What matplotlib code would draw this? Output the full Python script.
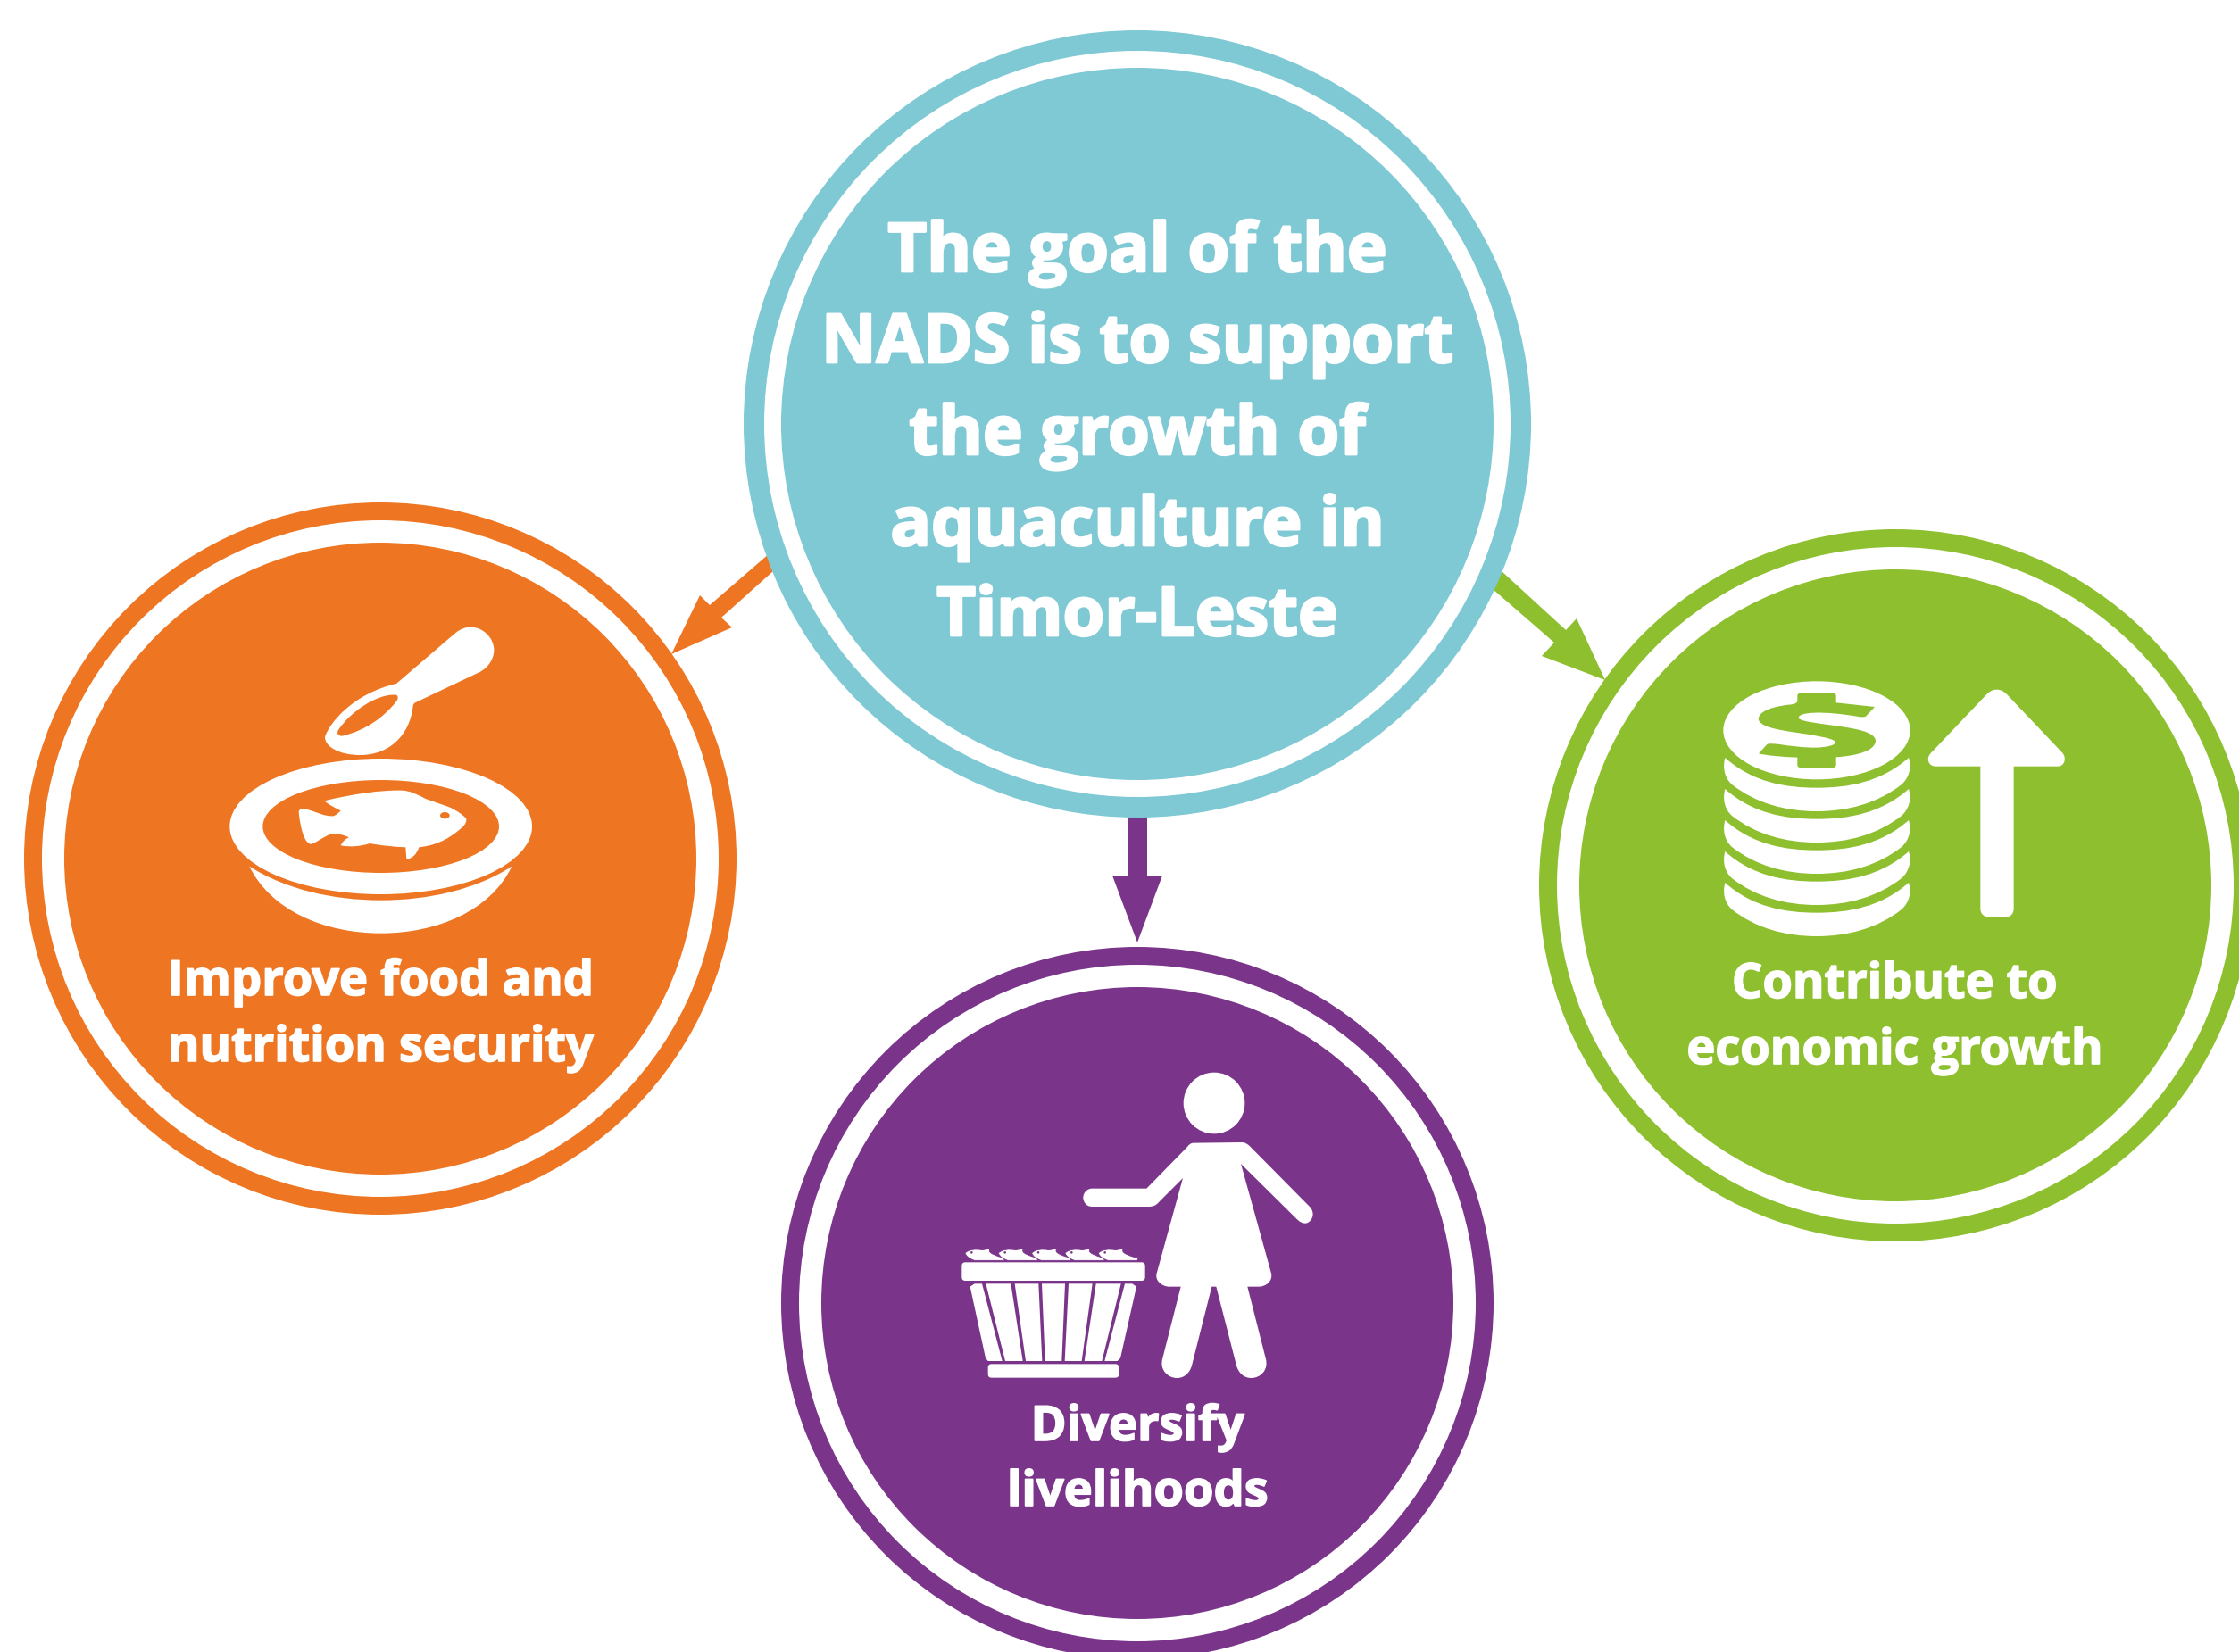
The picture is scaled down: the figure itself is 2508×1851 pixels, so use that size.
import re

import matplotlib
matplotlib.use("Agg")
import matplotlib.patheffects as pe
import matplotlib.pyplot as plt
from matplotlib.patches import Circle, Ellipse, FancyBboxPatch, PathPatch, Polygon
from matplotlib.path import Path

WIDTH, HEIGHT = 2508, 1851

TEAL = "#7FC9D5"
ORANGE = "#EE7623"
GREEN = "#8DBF2F"
PURPLE = "#7A358B"
FONT = ["Open Sans", "DejaVu Sans"]

# circle name, colour, centre x, centre y
circle_names = ["goal", "food", "economy", "livelihoods"]
circle_colors = [TEAL, ORANGE, GREEN, PURPLE]
circle_x = [1274, 426, 2123, 1274]
circle_y = [475, 962, 992, 1460]
circle_radii = [(441, 418, 399), (399, 379, 354), (399, 379, 354), (399, 379, 354)]

goal_lines = ["The goal of the", "NADS is to support", "the growth of",
              "aquaculture in", "Timor-Leste"]
goal_baselines = [304, 406, 509, 611, 712]

food_lines = ["Improve food and", "nutrition security"]
food_baselines = [1115, 1189]
economy_lines = ["Contribute to", "economic growth"]
economy_baselines = [1118, 1192]
livelihood_lines = ["Diversify", "livelihoods"]
livelihood_baselines = [1614, 1687]

# connector arrows, drawn under the circles
arrow_orange = [(862, 620), (795, 678), (784, 667), (752, 733), (820, 703), (808, 692), (866, 640)]
arrow_green = [(1682, 640), (1754, 706), (1766, 693), (1798, 762), (1727, 735), (1741, 720), (1672, 660)]
arrow_purple = [(1263, 915), (1263, 981), (1246, 981), (1274, 1056), (1302, 981), (1285, 981), (1285, 915)]

# icon outlines, in pixels of each icon's own 3x crop
SPOON = ("M 672 318 L 870 148 C 890 132 905 128 925 128 C 965 130 1000 165 1000 205 "
         "C 1000 240 975 268 950 280 L 735 382 C 728 386 728 392 727 400 "
         "C 715 490 650 558 550 558 C 480 558 432 530 432 498 "
         "C 445 450 530 350 672 318 Z")
SPOON_HOLE = ("M 672 356 C 680 362 678 370 670 380 C 630 430 570 475 490 494 "
              "C 475 494 470 485 478 472 C 520 410 610 350 672 356 Z")
BOWL = ("M 178 932 C 300 1010 460 1046 620 1046 C 780 1046 940 1010 1060 932 "
        "C 990 1080 810 1157 620 1157 C 430 1157 250 1080 178 932 Z")
FISH = ("M 430 712 C 520 690 620 675 690 677 C 720 678 745 692 770 705 L 850 733 "
        "C 875 745 895 758 907 772 C 908 790 895 800 880 812 C 840 845 800 862 748 868 "
        "C 740 892 725 906 706 908 L 703 868 C 660 866 620 862 583 855 "
        "C 550 865 520 868 485 862 C 492 848 500 840 513 835 C 495 826 470 820 450 824 "
        "C 430 832 405 850 388 857 C 365 860 350 810 344 750 C 345 738 355 737 370 740 "
        "C 400 748 430 765 460 763 C 470 760 478 752 485 745 C 465 735 445 725 430 712 Z")
COIN_BAND = ("M 97 357 C 190 440 300 458 405 458 C 510 458 620 440 714 357 "
             "C 725 390 715 425 690 447 C 610 510 510 537 405 537 "
             "C 300 537 200 510 120 447 C 95 425 88 390 97 357 Z")
DOLLAR = ("M 340 150 C 340 142 345 140 350 140 L 460 140 C 468 140 470 145 470 150 L 470 172 "
          "L 600 186 L 570 218 C 560 222 550 220 540 218 C 490 210 440 204 395 206 "
          "C 360 207 340 215 345 225 C 355 235 400 240 450 247 C 530 258 600 268 603 300 "
          "C 600 335 540 350 470 355 L 470 380 C 470 388 465 390 460 390 L 350 390 "
          "C 345 390 340 388 340 380 L 340 356 C 290 354 240 350 210 343 L 238 312 "
          "C 245 308 260 310 280 312 C 320 318 360 323 400 323 C 440 322 470 315 468 303 "
          "C 455 290 400 282 340 273 C 270 263 210 252 209 225 C 215 195 270 183 320 178 "
          "C 335 175 340 172 340 165 Z")
UP_ARROW = ("M 1010 128 C 1025 128 1035 135 1045 145 L 1230 340 C 1245 355 1240 386 1215 386 "
            "L 1067 386 L 1067 865 C 1067 882 1055 893 1040 893 L 985 893 "
            "C 968 893 955 882 955 865 L 955 386 L 805 386 C 780 386 772 360 787 343 "
            "L 975 145 C 985 135 995 128 1010 128 Z")
PERSON = ("M 860 302 L 1025 300 C 1035 300 1045 308 1050 313 L 1250 515 "
          "C 1270 535 1262 560 1245 570 C 1228 577 1215 565 1205 555 L 1020 372 L 1122 740 "
          "C 1128 765 1105 785 1080 785 L 1042 785 L 1103 1025 C 1115 1065 1085 1092 1055 1092 "
          "C 1030 1092 1012 1075 1005 1050 L 937 785 L 922 785 L 855 1050 "
          "C 848 1075 830 1092 805 1092 C 775 1092 745 1065 757 1025 L 818 785 L 780 785 "
          "C 755 785 730 765 737 740 L 825 420 L 745 500 C 735 512 725 516 710 516 L 520 516 "
          "C 500 516 490 500 490 485 C 490 470 503 455 520 455 L 703 455 L 840 315 "
          "C 845 308 852 302 860 302 Z")
MINI_FISH = ("M 93 672 C 105 660 130 657 150 662 L 178 657 C 170 666 178 672 190 677 "
             "C 205 684 220 689 228 684 L 224 697 L 125 697 C 108 692 96 682 93 672 Z")
BASKET_SLATS = [
    [(110, 785), (125, 775), (150, 775), (218, 1035), (170, 1035), (162, 1025)],
    [(163, 775), (247, 775), (287, 1035), (228, 1035)],
    [(260, 775), (340, 775), (352, 1035), (297, 1035)],
    [(351, 775), (429, 775), (418, 1035), (362, 1035)],
    [(441, 775), (521, 775), (485, 1035), (428, 1035)],
    [(533, 775), (617, 775), (553, 1035), (494, 1035)],
    [(630, 775), (655, 775), (669, 785), (615, 1025), (605, 1035), (562, 1035)],
]


def crop_path(outline, origin, shift=(0, 0)):
    """Turn an M/L/C outline given in 3x crop pixels into a Path in image pixels."""
    tokens = re.findall(r"[MLCZ]|-?\d+\.?\d*", outline)
    verts, codes = [], []
    i = 0

    def point(k):
        return (origin[0] + (float(tokens[k]) + shift[0]) / 3,
                origin[1] + (float(tokens[k + 1]) + shift[1]) / 3)

    while i < len(tokens):
        op = tokens[i]
        if op == "M" or op == "L":
            verts.append(point(i + 1))
            codes.append(Path.MOVETO if op == "M" else Path.LINETO)
            i += 3
        elif op == "C":
            verts += [point(i + 1), point(i + 3), point(i + 5)]
            codes += [Path.CURVE4] * 3
            i += 7
        else:
            verts.append(verts[0])
            codes.append(Path.CLOSEPOLY)
            i += 1
    return Path(verts, codes)


def draw_outline(ax, outline, origin, color="white", shift=(0, 0), edge="none", lw=0):
    ax.add_patch(PathPatch(crop_path(outline, origin, shift), fc=color, ec=edge, lw=lw, zorder=5))


def draw_round_box(ax, origin, x0, y0, x1, y1, rounding):
    ax.add_patch(FancyBboxPatch((origin[0] + x0 / 3, origin[1] + y0 / 3), (x1 - x0) / 3, (y1 - y0) / 3,
                                boxstyle=f"round,pad=0,rounding_size={rounding}",
                                fc="white", ec="none", zorder=5))


def draw_lines(ax, lines, baselines, x, size, stroke):
    for line, y in zip(lines, baselines):
        t = ax.text(x, y, line, color="white", fontsize=size, fontweight="bold", family=FONT,
                    ha="center", va="baseline", zorder=6)
        # the original face is heavier than Open Sans Bold
        t.set_path_effects([pe.withStroke(linewidth=stroke, foreground="white")])


def draw_bowl_icon(ax):
    origin = (220, 660)
    draw_outline(ax, SPOON, origin)
    draw_outline(ax, SPOON_HOLE, origin, ORANGE)
    cx, cy = origin[0] + 620 / 3, origin[1] + 798 / 3
    ax.add_patch(Ellipse((cx, cy), 2 * 508 / 3, 2 * 228 / 3, fc="white", ec="none", zorder=5))
    ax.add_patch(Ellipse((cx, cy), 2 * 397 / 3, 2 * 156 / 3, fc=ORANGE, ec="none", zorder=5))
    draw_outline(ax, BOWL, origin)
    draw_outline(ax, FISH, origin)
    ax.add_patch(Ellipse((origin[0] + 835 / 3, origin[1] + 761 / 3), 32 / 3, 22 / 3,
                         fc=ORANGE, ec="none", zorder=5))


def draw_coin_icon(ax):
    origin = (1900, 730)
    ax.add_patch(Ellipse((origin[0] + 405 / 3, origin[1] + 265 / 3), 2 * 314 / 3, 2 * 165 / 3,
                         fc="white", ec="none", zorder=5))
    draw_outline(ax, DOLLAR, origin, GREEN)
    for k in range(5):
        draw_outline(ax, COIN_BAND, origin, shift=(0, 105 * k))
    draw_outline(ax, UP_ARROW, origin)


def draw_person_icon(ax):
    origin = (1050, 1180)
    ax.add_patch(Circle((origin[0] + 930 / 3, origin[1] + 168 / 3), 103 / 3, fc="white", ec="none", zorder=5))
    draw_outline(ax, PERSON, origin)
    draw_round_box(ax, origin, 82, 703, 698, 765, 4)
    draw_round_box(ax, origin, 170, 1045, 610, 1091, 4)
    for slat in BASKET_SLATS:
        pts = [(origin[0] + x / 3, origin[1] + y / 3) for x, y in slat]
        ax.add_patch(Polygon(pts, closed=True, fc="white", ec="none", zorder=5))
    for k in range(5):
        draw_outline(ax, MINI_FISH, origin, shift=(112 * k, 0), edge=PURPLE, lw=0.6)
        ax.add_patch(Circle((origin[0] + (115 + 112 * k) / 3, origin[1] + 670 / 3), 1.3,
                            fc=PURPLE, ec="none", zorder=5))


fig = plt.figure(figsize=(WIDTH / 100, HEIGHT / 100), dpi=100, facecolor="white")
ax = fig.add_axes([0, 0, 1, 1])
ax.set_xlim(0, WIDTH)
ax.set_ylim(HEIGHT, 0)
ax.axis("off")

for pts, color in zip([arrow_orange, arrow_green, arrow_purple], [ORANGE, GREEN, PURPLE]):
    ax.add_patch(Polygon(pts, closed=True, fc=color, ec="none", zorder=1))

for name, color, x, y, radii in zip(circle_names, circle_colors, circle_x, circle_y, circle_radii):
    ax.add_patch(Circle((x, y), radii[0], fc=color, ec="none", zorder=2))
    ax.add_patch(Circle((x, y), radii[1], fc="white", ec="none", zorder=3))
    ax.add_patch(Circle((x, y), radii[2], fc=color, ec="none", zorder=4))

draw_bowl_icon(ax)
draw_coin_icon(ax)
draw_person_icon(ax)

draw_lines(ax, goal_lines, goal_baselines, 1274, 54.5, 2.0)
draw_lines(ax, food_lines, food_baselines, 426, 39, 1.2)
draw_lines(ax, economy_lines, economy_baselines, 2122, 39, 1.2)
draw_lines(ax, livelihood_lines, livelihood_baselines, 1274, 39, 1.2)

fig.savefig("out.png", dpi=100, facecolor="white")
